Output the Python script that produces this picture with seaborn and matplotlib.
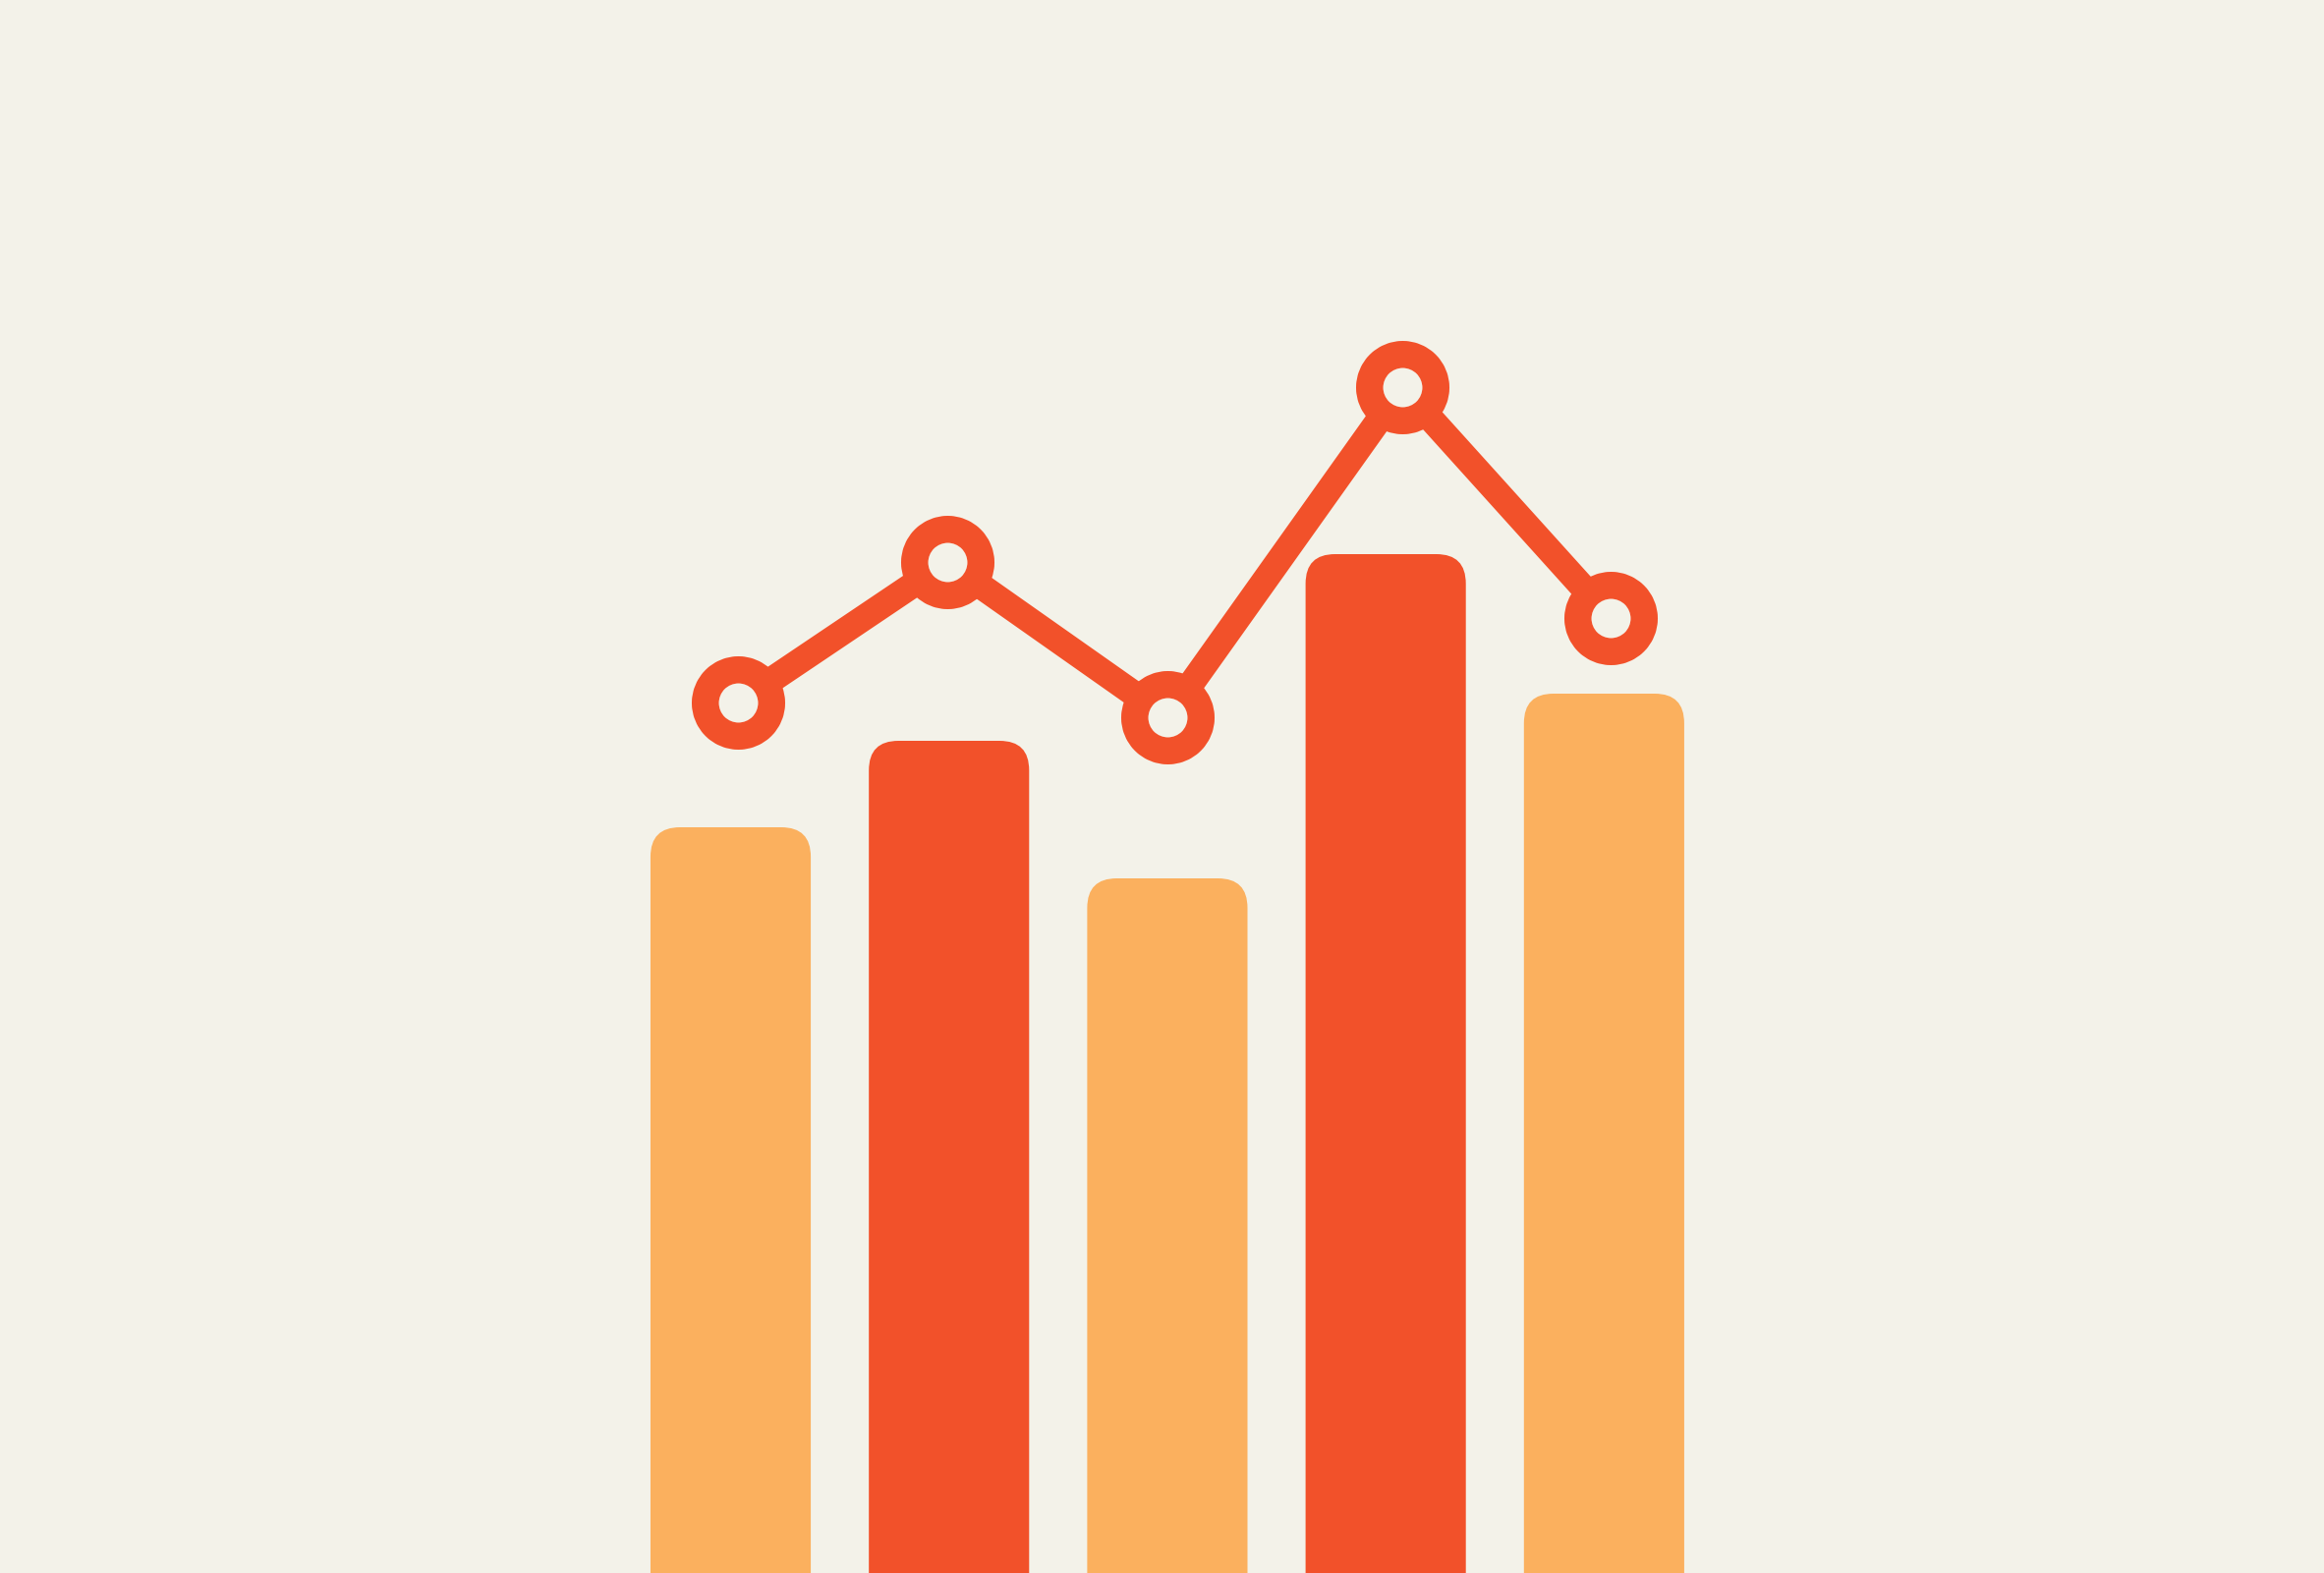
import numpy as np
import pandas as pd
import matplotlib
matplotlib.use("Agg")
import matplotlib.pyplot as plt
import seaborn as sns
from matplotlib.patches import FancyBboxPatch
from matplotlib.transforms import IdentityTransform

# data (bar heights and line values in pixel-like units from the bottom edge)
bar_pos = [0, 1, 2, 3, 4]
bar_names = ["A", "B", "C", "D", "E"]
bar_vals = [759, 847, 707, 1037, 895]
line_pos = [0.034, 0.99, 2.0, 3.076, 4.03]
line_vals = [886, 1029, 871, 1207, 972]

bg = "#F3F2E9"
red = "#F2512A"
light = "#FBB05E"
bar_colors = [light, red, light, red, light]

sns.set_theme(style="white")

fig = plt.figure(figsize=(23.65, 16.01), dpi=100, facecolor=bg)
ax = fig.add_axes([0, 0, 1, 1])
ax.set_facecolor(bg)

df = pd.DataFrame({"pos": bar_pos, "name": bar_names, "val": bar_vals})
sns.barplot(data=df, x="pos", y="val", hue="name", palette=bar_colors,
            native_scale=True, dodge=False, width=0.734, saturation=1,
            legend=False, ax=ax)

sns.lineplot(x=line_pos, y=line_vals, color=red, marker="o",
             markersize=48.6, markeredgewidth=19.8, markerfacecolor=bg,
             markeredgecolor=red, ax=ax)
for ln in ax.lines:
    ln.set_linewidth(19)
    ln.set_solid_joinstyle("round")

ax.set_xlim(-3.346, 7.297)
ax.set_ylim(0, 1601)
ax.set_axis_off()

# swap the plain bars for ones with rounded tops (done in pixels so corners stay circular)
for p in list(ax.patches):
    x0, w, h = p.get_x(), p.get_width(), p.get_height()
    fc = p.get_facecolor()
    (px0, py0), (px1, py1) = ax.transData.transform([(x0, 0), (x0 + w, h)])
    p.remove()
    box = FancyBboxPatch((px0, py0 - 60), px1 - px0, py1 - py0 + 60,
                         boxstyle="round,pad=0,rounding_size=30",
                         fc=fc, ec="none", transform=IdentityTransform(), zorder=1)
    ax.add_patch(box)

fig.savefig("out.png", dpi=100, facecolor=bg)
